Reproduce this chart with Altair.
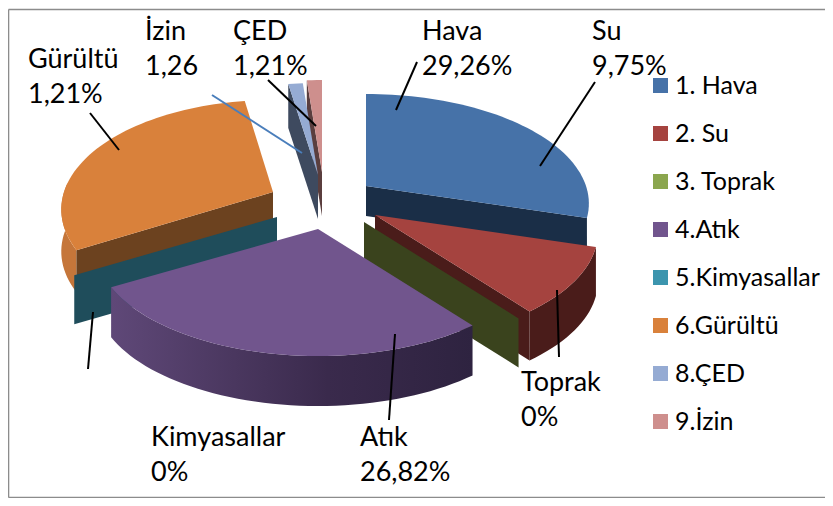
import math
import altair as alt
import pandas as pd

# ---- data ----
legend_names = ["1. Hava", "2. Su", "3. Toprak", "4.Atık", "5.Kimyasallar", "6.Gürültü", "8.ÇED", "9.İzin"]
slice_names = ["Hava", "Su", "Toprak", "Atık", "Kimyasallar", "Gürültü", "ÇED", "İzin"]
value_labels = ["29,26%", "9,75%", "0%", "26,82%", "0%", "1,21%", "1,21%", "1,26"]
# angular size of every slice as drawn (Gürültü is drawn far larger than its label says)
drawn_shares = [29.26, 9.75, 0, 26.82, 0, 30.5, 1.21, 1.26]

# ---- styles ----
top_colors = ["#4672A8", "#A5433F", "#8BA64E", "#71558D", "#3C95AE", "#D9813B", "#95ABD3", "#CE8F8D"]
wall_colors = ["#1A2E47", "#4A1C1A", "#3A431D", "#3A2A4A", "#1F4D5B", "#6C421F", "#3E4A5F", "#5A3E3E"]
rim_colors = {"Su": "#4A1C1A", "Gürültü": "#C5763A"}

# ---- layout: exploded apex of each slice and thickness, in page pixels ----
apex = {"Hava": (366, 186), "Su": (375, 215), "Toprak": (364, 222), "Atık": (318, 229),
        "Kimyasallar": (277, 217), "Gürültü": (273, 192), "ÇED": (318, 175), "İzin": (322, 172)}
depth = {"Hava": 30, "Su": 49, "Toprak": 49, "Atık": 50, "Kimyasallar": 49, "Gürültü": 27, "ÇED": 44, "İzin": 44}
x_stretch = {"Gürültü": 0.95, "Kimyasallar": 0.98}
A, B, K = 220.0, 106.7, 0.16
W, H = 817, 490

total = sum(drawn_shares)
start = {}
end = {}
acc = 0.0
for n, s in zip(slice_names, drawn_shares):
    start[n] = acc / total * 2 * math.pi
    acc += s
    end[n] = acc / total * 2 * math.pi


def rim(name, t):
    u, v = math.sin(t), math.cos(t)
    w = 1 + K * v
    ax, ay = apex[name]
    return (ax + A * x_stretch.get(name, 1.0) * u / w, ay - B * v / w)


def arc_pts(name, t0, t1):
    n = max(2, int(abs(t1 - t0) / math.radians(2)) + 2)
    return [rim(name, t0 + (t1 - t0) * i / (n - 1)) for i in range(n)]


def down(pts, d):
    return [(x, y + d) for x, y in pts]


def feature(pts):
    ring = [list(p) for p in pts] + [list(pts[0])]
    return {"type": "Feature", "geometry": {"type": "Polygon", "coordinates": [ring]}, "properties": {}}


projection = dict(type="identity")


def face(pts, fill):
    return alt.Chart(alt.Data(values=[feature(pts)])).mark_geoshape(
        fill=fill, stroke=None, strokeWidth=0
    ).project(**projection)


def top_face(n, color):
    return face([apex[n]] + arc_pts(n, start[n], end[n]), color)


def radial_wall(n, t, color):
    a = apex[n]
    c = rim(n, t)
    d = depth[n]
    return face([a, c, (c[0], c[1] + d), (a[0], a[1] + d)], color)


def rim_wall(n, t0, t1, fill, d=None):
    p = arc_pts(n, t0, t1)
    return face(p + down(p, d if d else depth[n])[::-1], fill)


idx = {n: i for i, n in enumerate(slice_names)}
layers = []
# invisible page rectangle: makes the identity projection map page pixels 1:1
layers.append(alt.Chart(alt.Data(values=[feature([(8, 8), (8 + W, 8), (8 + W, 8 + H), (8, 8 + H)])]))
              .mark_geoshape(fill="transparent", stroke=None, strokeWidth=0).project(**projection))

# back pieces
n = "İzin"
layers += [radial_wall(n, start[n], wall_colors[idx[n]]), top_face(n, top_colors[idx[n]])]
n = "ÇED"
layers += [radial_wall(n, start[n], wall_colors[idx[n]]), top_face(n, top_colors[idx[n]])]
n = "Hava"
layers += [radial_wall(n, end[n], wall_colors[idx[n]]), top_face(n, top_colors[idx[n]])]
n = "Gürültü"
layers += [rim_wall(n, start[n], math.radians(275), rim_colors[n], 42),
           radial_wall(n, start[n], wall_colors[idx[n]]), top_face(n, top_colors[idx[n]])]
# front pieces
n = "Su"
layers += [rim_wall(n, start[n], end[n], rim_colors[n]),
           radial_wall(n, end[n], wall_colors[idx[n]]), top_face(n, top_colors[idx[n]])]
n = "Toprak"
layers += [radial_wall(n, start[n], wall_colors[idx[n]])]
n = "Kimyasallar"
layers += [radial_wall(n, start[n], wall_colors[idx[n]])]
n = "Atık"
atik_gradient = alt.Gradient(
    gradient="linear", x1=0, x2=1, y1=0, y2=0,
    stops=[alt.GradientStop(offset=0, color="#5F4878"),
           alt.GradientStop(offset=0.6, color="#3A2A4C"),
           alt.GradientStop(offset=1, color="#2E2340")])
layers += [rim_wall(n, start[n], end[n], atik_gradient), top_face(n, top_colors[idx[n]])]

# shared page-pixel scales
xs = alt.Scale(domain=[8, 8 + W], range=[0, W])
ys = alt.Scale(domain=[8, 8 + H], range=[0, H])

# frame
fb = 7.5 + H
fr = 8 + W
frame = pd.DataFrame({"x": [8.5, 8.5, 8.5], "x2": [8.5, fr, fr], "y": [9.5, fb, 9.5], "y2": [fb, fb, 9.5]})
layers.append(alt.Chart(frame).mark_rule(color="#8C8C8C", strokeWidth=1.6).encode(
    x=alt.X("x:Q", scale=xs, axis=None), x2="x2:Q", y=alt.Y("y:Q", scale=ys, axis=None), y2="y2:Q"))

# leader lines
lead_black = pd.DataFrame({
    "x": [417, 595, 557, 395, 93, 119, 268],
    "y": [62, 82, 290, 334, 312, 150, 80],
    "x2": [396, 540, 559, 389, 88, 90, 316],
    "y2": [110, 166, 357, 420, 369, 113, 126]})
layers.append(alt.Chart(lead_black).mark_rule(color="#000000", strokeWidth=2).encode(
    x=alt.X("x:Q", scale=xs, axis=None), x2="x2:Q", y=alt.Y("y:Q", scale=ys, axis=None), y2="y2:Q"))
lead_blue = pd.DataFrame({"x": [212], "y": [95], "x2": [302], "y2": [153]})
layers.append(alt.Chart(lead_blue).mark_rule(color="#4A7EBB", strokeWidth=2).encode(
    x=alt.X("x:Q", scale=xs, axis=None), x2="x2:Q", y=alt.Y("y:Q", scale=ys, axis=None), y2="y2:Q"))

# data labels: name and value, left aligned
label_x = {"Hava": 422, "Su": 592, "Toprak": 521, "Atık": 360, "Kimyasallar": 151, "Gürültü": 28, "ÇED": 233, "İzin": 145}
label_y = {"Hava": 40, "Su": 40, "Toprak": 391, "Atık": 446, "Kimyasallar": 446, "Gürültü": 68, "ÇED": 40, "İzin": 40}
rows = []
for n, v in zip(slice_names, value_labels):
    rows.append({"t": n, "x": label_x[n], "y": label_y[n]})
    rows.append({"t": v, "x": label_x[n], "y": label_y[n] + 35})
layers.append(alt.Chart(pd.DataFrame(rows)).mark_text(
    align="left", baseline="alphabetic", font="Lato", fontSize=27, color="#000000").encode(
    x=alt.X("x:Q", scale=xs, axis=None), y=alt.Y("y:Q", scale=ys, axis=None), text="t:N"))

# legend
legend_df = pd.DataFrame({"name": legend_names, "x": [400] * 8, "y": [300] * 8})
layers.append(alt.Chart(legend_df).mark_square(size=0).encode(
    x=alt.X("x:Q", scale=xs, axis=None), y=alt.Y("y:Q", scale=ys, axis=None),
    color=alt.Color("name:N", scale=alt.Scale(domain=legend_names, range=top_colors), sort=legend_names,
                    legend=alt.Legend(orient="none", legendX=640, legendY=65, title=None, symbolType="square",
                                      symbolSize=225, symbolStrokeWidth=0, symbolOpacity=1, labelFont="Lato",
                                      labelFontSize=25, labelColor="#000000", labelOffset=2, rowPadding=22,
                                      padding=0, labelLimit=200, values=legend_names))))

chart = alt.layer(*layers).properties(
    width=W, height=H, padding=0, autosize=alt.AutoSizeParams(type="none"),
).configure_view(stroke=None)
chart.save("out.html", embed_options={"renderer": "svg", "actions": False})
